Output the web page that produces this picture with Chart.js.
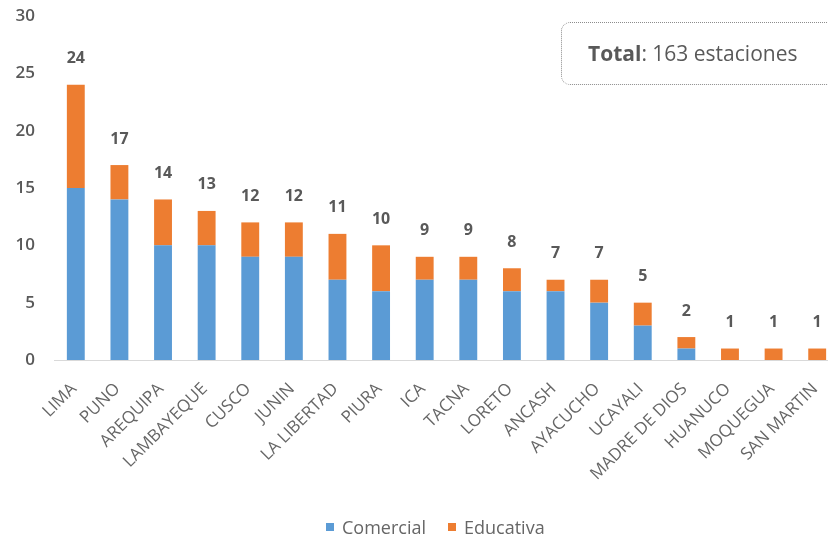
<!DOCTYPE html>
<html>
<head>
<meta charset="utf-8">
<script src="https://cdn.jsdelivr.net/npm/chart.js@4.4.1/dist/chart.umd.min.js"></script>
<style>
  html, body { margin: 0; padding: 0; background: #fff; overflow: hidden; }
  #wrap { position: relative; width: 870px; height: 538px; }
  #total {
    position: absolute; left: 561px; top: 22px; width: 290px; height: 63px;
    border: 1.5px dotted #8c8c8c; border-radius: 9px; box-sizing: border-box;
    font-family: "Open Sans", Lato, sans-serif; font-size: 21px; color: #595959;
    line-height: 60px; padding-left: 26px; white-space: nowrap;
  }
  #total b { font-weight: 700; }
  #leyenda {
    position: absolute; left: 326px; top: 516px; height: 22px;
    font-family: "Open Sans", Lato, sans-serif; font-size: 18px; color: #666;
    display: flex; align-items: center; white-space: nowrap;
  }
  #leyenda span.item { display: inline-flex; align-items: center; margin-right: 22px; }
  #leyenda span.caja { display: inline-block; width: 8px; height: 8px; margin-right: 8px; }
</style>
</head>
<body>
<div id="wrap">
  <canvas id="chart" width="870" height="538"></canvas>
  <div id="total"><b>Total</b>: 163 estaciones</div>
  <div id="leyenda"></div>
</div>
<script>
// Estaciones por región, separadas por tipo de licencia
const regiones = ["LIMA", "PUNO", "AREQUIPA", "LAMBAYEQUE", "CUSCO", "JUNIN", "LA LIBERTAD", "PIURA", "ICA",
  "TACNA", "LORETO", "ANCASH", "AYACUCHO", "UCAYALI", "MADRE DE DIOS", "HUANUCO", "MOQUEGUA", "SAN MARTIN"];
const comercial = [15, 14, 10, 10, 9, 9, 7, 6, 7, 7, 6, 6, 5, 3, 1, 0, 0, 0];
const educativa = [9, 3, 4, 3, 3, 3, 4, 4, 2, 2, 2, 1, 2, 2, 1, 1, 1, 1];
const totales = [24, 17, 14, 13, 12, 12, 11, 10, 9, 9, 8, 7, 7, 5, 2, 1, 1, 1];
const yTicks = [0, 5, 10, 15, 20, 25, 30];

const gris = "#595959";
const fuente = "'Open Sans', Lato, sans-serif";

// Escribe el total de cada región encima de su barra apilada
const etiquetasTotales = {
  id: "etiquetasTotales",
  afterDatasetsDraw(chart) {
    const { ctx } = chart;
    const yScale = chart.scales.y;
    const xScale = chart.scales.x;
    ctx.save();
    ctx.fillStyle = gris;
    ctx.font = "bold 16px " + fuente;
    ctx.textAlign = "center";
    ctx.textBaseline = "middle";
    totales.forEach((t, i) => {
      const x = xScale.getPixelForValue(i);
      const y = yScale.getPixelForValue(t) - 26;
      ctx.fillText(String(t), x, y);
    });
    ctx.restore();
  }
};

const grafico = new Chart(document.getElementById("chart"), {
  type: "bar",
  data: {
    labels: regiones,
    datasets: [
      { label: "Comercial", data: comercial, backgroundColor: "#5B9BD5", barPercentage: 0.41, categoryPercentage: 1 },
      { label: "Educativa", data: educativa, backgroundColor: "#ED7D31", barPercentage: 0.41, categoryPercentage: 1 }
    ]
  },
  options: {
    responsive: false,
    animation: false,
    layout: { padding: { left: 0, right: 31, top: 16, bottom: 38 } },
    plugins: {
      tooltip: { enabled: false },
      legend: { display: false }
    },
    scales: {
      x: {
        stacked: true,
        grid: { display: false },
        border: { display: true, color: "#d9d9d9", width: 1 },
        ticks: {
          color: "#666", font: { family: fuente, size: 17 },
          minRotation: 45, maxRotation: 45, autoSkip: false, labelOffset: -2, padding: 11
        },
        afterFit(scale) { scale.height = 140; }
      },
      y: {
        stacked: true,
        min: yTicks[0], max: yTicks[yTicks.length - 1],
        grid: { display: false, drawTicks: true, tickLength: 15 },
        border: { display: false },
        ticks: {
          stepSize: yTicks[1] - yTicks[0],
          color: gris, padding: 4, font: { family: fuente, size: 17, weight: 600 }
        },
        afterFit(scale) { scale.width = 54; }
      }
    }
  },
  plugins: [etiquetasTotales]
});

// Leyenda en HTML construida a partir de las series del gráfico
const leyenda = document.getElementById("leyenda");
grafico.data.datasets.forEach(ds => {
  const item = document.createElement("span");
  item.className = "item";
  const caja = document.createElement("span");
  caja.className = "caja";
  caja.style.background = ds.backgroundColor;
  item.appendChild(caja);
  item.appendChild(document.createTextNode(ds.label));
  leyenda.appendChild(item);
});
</script>
</body>
</html>
